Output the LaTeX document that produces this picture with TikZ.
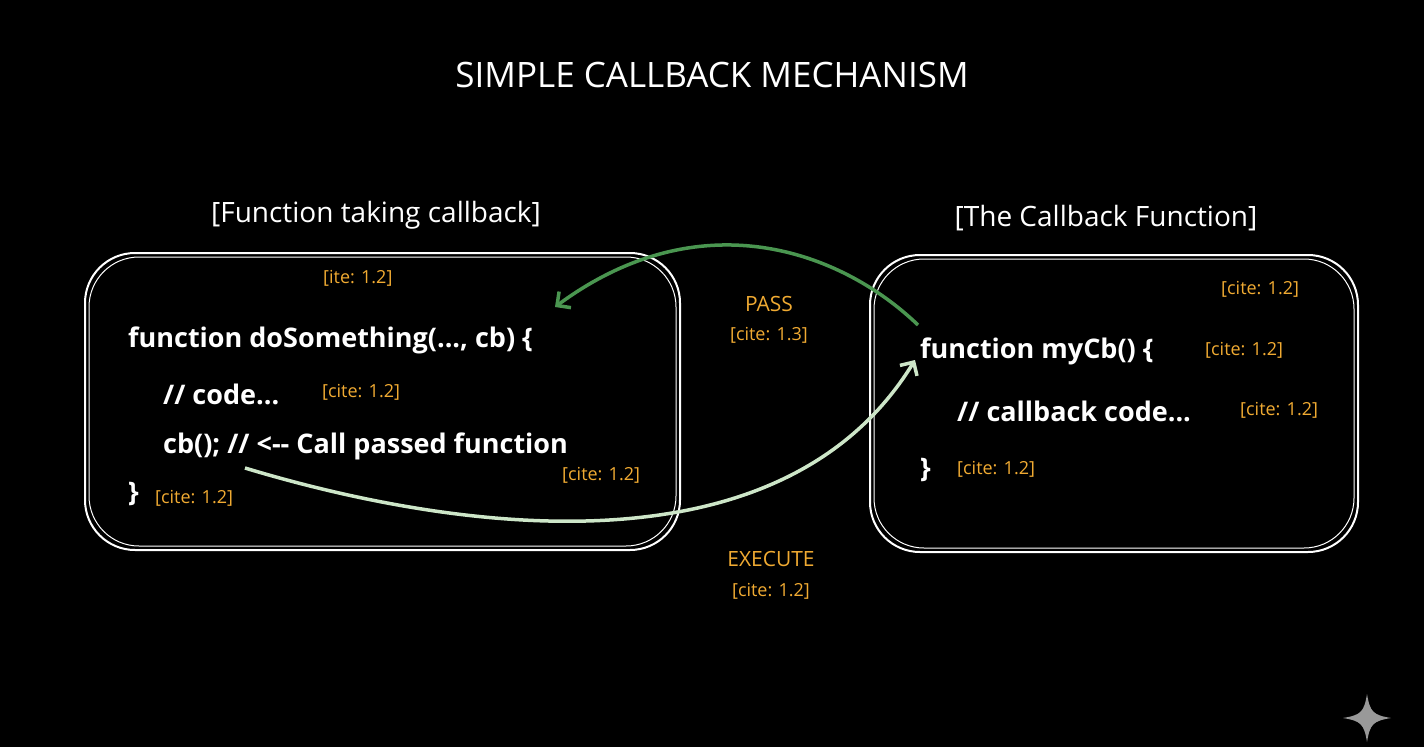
\documentclass[tikz,border=0pt]{standalone}
\usetikzlibrary{arrows.meta}
\usepackage{fontspec}
\setmainfont{Open Sans}
\definecolor{cit}{RGB}{240,170,50}
\begin{document}
\begin{tikzpicture}[x=1pt,y=-1pt,
  box/.style={draw=white,line width=2pt,rounded corners=50pt},
  code/.style={anchor=west,text=white,font=\fontsize{27}{30}\selectfont\bfseries,inner sep=0},
  cite/.style={anchor=west,text=cit,font=\fontsize{18}{21}\selectfont,inner sep=0},
  hdr/.style={text=white,font=\fontsize{28}{32}\selectfont,inner sep=0},
  lbl/.style={text=cit,font=\fontsize{21}{24}\selectfont,inner sep=0}]
\fill[black] (0,0) rectangle (1424,747);
\useasboundingbox (0,0) rectangle (1424,747);
\node[hdr,font=\fontsize{35}{38}\selectfont] (title) at (712,75) {SIMPLE CALLBACK MECHANISM};
\node[hdr] (hl) at (376,215) {[Function taking callback]};
\node[hdr] (hr) at (1106,218) {[The Callback Function]};
\draw[box] (85,253) rectangle (680,550);
\draw[box,line width=1pt] (89,257) rectangle (676,546);
\draw[box] (870,255) rectangle (1358,552);
\draw[box,line width=1pt] (874,259) rectangle (1354,548);
\node[cite] (c0) at (323,278) {[ite: 1.2]};
\node[code] (l1) at (128,340) {function doSomething(..., cb) \{};
\node[code] (l2) at (163,394) {// code...};
\node[cite] (c2) at (322,392) {[cite: 1.2]};
\node[code] (l3) at (163,446) {cb(); // <-{}- Call passed function};
\node[cite] (c3) at (562,475) {[cite: 1.2]};
\node[code] (l4) at (128,494) {\}};
\node[cite] (c4) at (155,498) {[cite: 1.2]};
\node[cite] (r0) at (1221,289) {[cite: 1.2]};
\node[code] (r1) at (920,351) {function myCb() \{};
\node[cite] (rc1) at (1205,350) {[cite: 1.2]};
\node[code] (r2) at (957,411) {// callback code...};
\node[cite] (rc2) at (1240,410) {[cite: 1.2]};
\node[code] (r3) at (920,470) {\}};
\node[cite] (rc3) at (957,469) {[cite: 1.2]};
\node[lbl] (pass) at (769,304) {PASS};
\node[cite,anchor=center] (pc) at (769,335) {[cite: 1.3]};
\node[lbl] (exe) at (771,559) {EXECUTE};
\node[cite,anchor=center] (ec) at (771,591) {[cite: 1.2]};
\coordinate (gs) at (918,325);
\coordinate (ge) at (555,307);
\coordinate (ws) at (245,468);
\coordinate (we) at (915,360);
\draw[line width=3.5pt,color={rgb,255:red,74;green,150;blue,80},-{Straight Barb[length=10pt]}] (gs) .. controls (840,250) and (700,200) .. (ge);
\draw[line width=3.5pt,color={rgb,255:red,205;green,230;blue,200},-{Straight Barb[length=10pt]}] (ws) .. controls (450,530) and (780,580) .. (we);
\fill[gray!80] (1367,694) .. controls (1370,712) and (1373,715) .. (1391,718) .. controls (1373,721) and (1370,724) .. (1367,742) .. controls (1364,724) and (1361,721) .. (1343,718) .. controls (1361,715) and (1364,712) .. cycle;
\end{tikzpicture}
\end{document}
